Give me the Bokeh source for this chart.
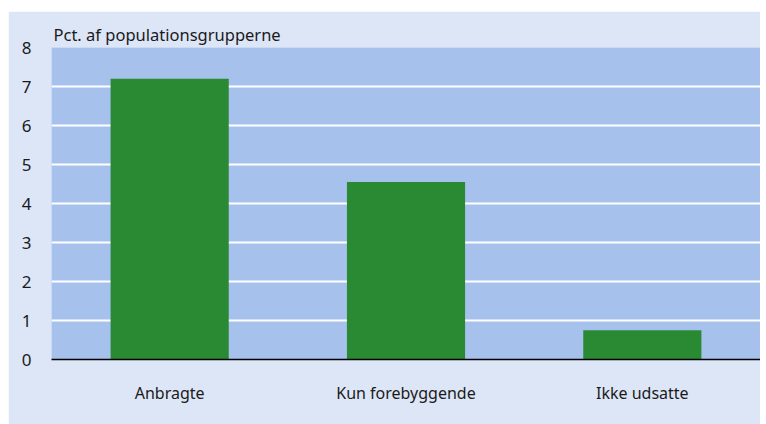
from bokeh.plotting import figure
from bokeh.models import Range1d, FactorRange, Spacer
from bokeh.layouts import column, row
from bokeh.embed import file_html
from bokeh.resources import INLINE

categories = ["Anbragte", "Kun forebyggende", "Ikke udsatte"]
values = [7.2, 4.55, 0.75]
y_ticks = [0, 1, 2, 3, 4, 5, 6, 7, 8]

FONT = "Noto Sans"
PANEL = "#dde6f7"
PLOT_BG = "#a6c2ec"
BAR = "#2a8a33"

p = figure(x_range=FactorRange(*categories, range_padding=0), y_range=Range1d(0, 8),
           width=752, height=413, output_backend="svg", toolbar_location=None,
           min_border_left=43, min_border_right=0, min_border_top=36, min_border_bottom=65,
           background_fill_color=PLOT_BG, border_fill_color=PANEL, outline_line_color=None)

p.vbar(x=categories, top=values, width=0.5, color=BAR, line_color=None)

p.title.text = "Pct. af  populationsgrupperne"
p.title.align = "left"
p.title.offset = 2
p.title.text_font = FONT
p.title.text_font_size = "16.5px"
p.title.text_font_style = "normal"
p.title.text_color = "#1a1a1a"
p.title.standoff = 3

p.yaxis.ticker = y_ticks
p.yaxis.axis_line_color = None
p.yaxis.major_tick_line_color = None
p.yaxis.minor_tick_line_color = None
p.yaxis.major_label_standoff = 14
p.yaxis.major_label_text_font = FONT
p.yaxis.major_label_text_font_size = "17px"
p.yaxis.major_label_text_color = "#1a1a1a"

p.xaxis.axis_line_color = "black"
p.xaxis.axis_line_width = 1.5
p.xaxis.major_tick_line_color = None
p.xaxis.minor_tick_line_color = None
p.xaxis.major_label_standoff = 16
p.xaxis.major_label_text_font = FONT
p.xaxis.major_label_text_font_size = "16px"
p.xaxis.major_label_text_color = "#1a1a1a"

p.xgrid.grid_line_color = None
p.ygrid.ticker = y_ticks
p.ygrid.grid_line_color = "white"
p.ygrid.grid_line_width = 2

layout = column(Spacer(height=11), row(Spacer(width=8), p, spacing=0), spacing=0)
open("out.html", "w").write(file_html(layout, INLINE))
